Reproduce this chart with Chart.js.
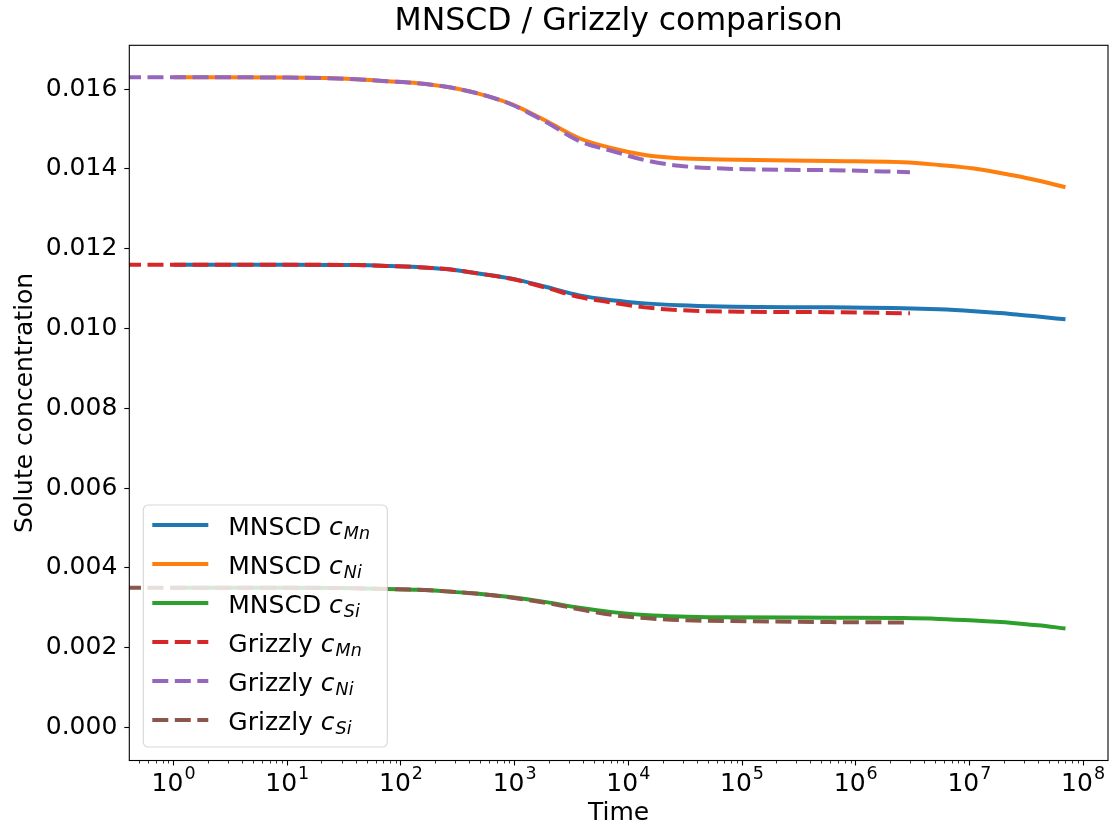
<!DOCTYPE html>
<html>
<head>
<meta charset="utf-8">
<title>MNSCD / Grizzly comparison</title>
<script src="https://cdn.jsdelivr.net/npm/chart.js@4.4.0/dist/chart.umd.min.js"></script>
<style>
  html, body { margin: 0; padding: 0; background: #fff; }
</style>
</head>
<body>
<canvas id="chart" width="1114" height="832"></canvas>
<script>
// time axis (log) and solute concentrations
const mnscdTime = [1, 10, 40, 75, 140, 250, 480, 950, 1900, 3700, 7200, 14000, 28000, 66000, 6e5, 2.6e6, 5.4e6, 1.1e7, 2.4e7, 4e7, 7e7];
const mnscdMn = [0.01160, 0.01160, 0.01159, 0.01157, 0.01154, 0.01149, 0.01138, 0.01125, 0.01104, 0.01083, 0.01071, 0.01063, 0.01058, 0.01055, 0.01053, 0.01051, 0.01048, 0.01043, 0.01036, 0.01030, 0.01023];
const mnscdNi = [0.01630, 0.01629, 0.01625, 0.01620, 0.01615, 0.01606, 0.01589, 0.01562, 0.01520, 0.01477, 0.01452, 0.01435, 0.01427, 0.01424, 0.01420, 0.01417, 0.01410, 0.01401, 0.01384, 0.01371, 0.01354];
const mnscdSi = [0.00350, 0.00350, 0.00349, 0.00347, 0.00345, 0.00341, 0.00335, 0.00326, 0.00314, 0.00300, 0.00289, 0.00282, 0.00278, 0.00276, 0.00275, 0.00274, 0.00272, 0.00268, 0.00262, 0.00256, 0.00248];

// first Grizzly time stands in for t = 0, which sits off the left of the log axis
const grizzlyTime = [0.001, 1, 10, 40, 75, 140, 250, 480, 950, 1900, 3700, 7200, 14000, 28000, 120000, 6e5, 3e6];
const grizzlyMn = [0.01160, 0.01160, 0.01160, 0.01159, 0.01157, 0.01154, 0.01149, 0.01138, 0.01124, 0.01102, 0.01079, 0.01065, 0.01053, 0.01046, 0.01042, 0.01041, 0.01038];
const grizzlyNi = [0.01630, 0.01630, 0.01629, 0.01625, 0.01620, 0.01615, 0.01606, 0.01589, 0.01561, 0.01517, 0.01470, 0.01445, 0.01422, 0.01408, 0.01399, 0.01397, 0.01392];
const grizzlySi = [0.00350, 0.00350, 0.00350, 0.00349, 0.00347, 0.00345, 0.00341, 0.00335, 0.00325, 0.00312, 0.00296, 0.00282, 0.00274, 0.00269, 0.00266, 0.00264, 0.00263];

const seriesNames = ['MNSCD', 'MNSCD', 'MNSCD', 'Grizzly', 'Grizzly', 'Grizzly'];
const elements = ['Mn', 'Ni', 'Si', 'Mn', 'Ni', 'Si'];

const xTicks = [1, 10, 100, 1e3, 1e4, 1e5, 1e6, 1e7, 1e8];
const xTickExponents = ['0', '1', '2', '3', '4', '5', '6', '7', '8'];
const yTicks = [0, 0.002, 0.004, 0.006, 0.008, 0.010, 0.012, 0.014, 0.016];
const yTickLabels = ['0.000', '0.002', '0.004', '0.006', '0.008', '0.010', '0.012', '0.014', '0.016'];

const FONT = '"DejaVu Sans", sans-serif';
const DASH = [16, 6.5];

const pts = (xs, ys) => xs.map((x, i) => ({ x: x, y: ys[i] }));

function line(label, xs, ys, color, dashed) {
    return {
        label: label,
        data: pts(xs, ys),
        borderColor: color,
        borderWidth: 4,
        borderDash: dashed ? DASH : [],
        pointRadius: 0,
        cubicInterpolationMode: 'monotone',
        fill: false,
        order: dashed ? 1 : 2 // dashed Grizzly lines sit on top
    };
}

function roundRect(ctx, x, y, w, h, r) {
    ctx.beginPath();
    ctx.moveTo(x + r, y);
    ctx.lineTo(x + w - r, y);
    ctx.arcTo(x + w, y, x + w, y + r, r);
    ctx.lineTo(x + w, y + h - r);
    ctx.arcTo(x + w, y + h, x + w - r, y + h, r);
    ctx.lineTo(x + r, y + h);
    ctx.arcTo(x, y + h, x, y + h - r, r);
    ctx.lineTo(x, y + r);
    ctx.arcTo(x, y, x + r, y, r);
    ctx.closePath();
}

// frame, minor log ticks and 10^n labels
const axesPlugin = {
    id: 'axesExtras',
    afterDraw(chart) {
        const { ctx, chartArea } = chart;
        const xs = chart.scales.x;
        ctx.save();
        ctx.strokeStyle = '#000';
        ctx.lineWidth = 1.1;
        ctx.strokeRect(chartArea.left, chartArea.top, chartArea.right - chartArea.left, chartArea.bottom - chartArea.top);

        // minor ticks
        ctx.beginPath();
        for (let d = -1; d <= 8; d++) {
            for (let k = 2; k <= 9; k++) {
                const v = k * Math.pow(10, d);
                if (v < xs.min || v > xs.max) continue;
                const px = Math.round(xs.getPixelForValue(v)) + 0.5;
                ctx.moveTo(px, chartArea.bottom);
                ctx.lineTo(px, chartArea.bottom + 3);
            }
        }
        ctx.lineWidth = 0.8;
        ctx.stroke();

        // tick labels with superscript
        ctx.fillStyle = '#000';
        ctx.textBaseline = 'alphabetic';
        ctx.textAlign = 'left';
        xTicks.forEach((v, i) => {
            const px = xs.getPixelForValue(v);
            ctx.font = '25px ' + FONT;
            const w1 = ctx.measureText('10').width;
            ctx.font = '17.5px ' + FONT;
            const w2 = ctx.measureText(xTickExponents[i]).width;
            const x0 = px - (w1 + w2 + 1) / 2;
            ctx.font = '25px ' + FONT;
            ctx.fillText('10', x0, chartArea.bottom + 30);
            ctx.font = '17.5px ' + FONT;
            ctx.fillText(xTickExponents[i], x0 + w1 + 1, chartArea.bottom + 18);
        });
        ctx.restore();
    }
};

// legend with italic c and subscript element
const legendPlugin = {
    id: 'mathLegend',
    afterDraw(chart) {
        const { ctx, chartArea } = chart;
        const w = 244, h = 242;
        const x = chartArea.left + 14;
        const y = chartArea.bottom - 13.5 - h;
        ctx.save();
        roundRect(ctx, x, y, w, h, 5);
        ctx.fillStyle = 'rgba(255,255,255,0.8)';
        ctx.fill();
        ctx.strokeStyle = 'rgba(204,204,204,0.8)';
        ctx.lineWidth = 1.1;
        ctx.stroke();

        chart.data.datasets.forEach((ds, i) => {
            const ry = y + 20 + i * 39;
            ctx.beginPath();
            ctx.setLineDash(ds.borderDash);
            ctx.lineWidth = ds.borderWidth;
            ctx.strokeStyle = ds.borderColor;
            ctx.moveTo(x + 9, ry);
            ctx.lineTo(x + 65, ry);
            ctx.stroke();
            ctx.setLineDash([]);

            ctx.fillStyle = '#000';
            ctx.textBaseline = 'alphabetic';
            ctx.textAlign = 'left';
            let tx = x + 85;
            const name = seriesNames[i] + ' ';
            ctx.font = '25px ' + FONT;
            ctx.fillText(name, tx, ry + 9.5);
            tx += ctx.measureText(name).width;
            ctx.font = 'italic 25px ' + FONT;
            ctx.fillText('c', tx, ry + 9.5);
            tx += ctx.measureText('c').width + 1;
            ctx.font = 'italic 17.5px ' + FONT;
            ctx.fillText(elements[i], tx, ry + 14);
        });
        ctx.restore();
    }
};

const ctx = document.getElementById('chart').getContext('2d');
new Chart(ctx, {
    type: 'line',
    data: {
        datasets: [
            line('MNSCD c_Mn', mnscdTime, mnscdMn, '#1f77b4', false),
            line('MNSCD c_Ni', mnscdTime, mnscdNi, '#ff7f0e', false),
            line('MNSCD c_Si', mnscdTime, mnscdSi, '#2ca02c', false),
            line('Grizzly c_Mn', grizzlyTime, grizzlyMn, '#d62728', true),
            line('Grizzly c_Ni', grizzlyTime, grizzlyNi, '#9467bd', true),
            line('Grizzly c_Si', grizzlyTime, grizzlySi, '#8c564b', true)
        ]
    },
    options: {
        responsive: false,
        animation: false,
        layout: { padding: { left: 0, right: 6, top: 0, bottom: 0 } },
        plugins: {
            legend: { display: false },
            tooltip: { enabled: false },
            title: {
                display: true,
                fullSize: false, // centre over the plot area, like matplotlib
                text: 'MNSCD / Grizzly comparison',
                color: '#000',
                font: { family: FONT, size: 31.5, weight: 'normal' },
                padding: { top: 3, bottom: 4.5 }
            }
        },
        scales: {
            x: {
                type: 'logarithmic',
                min: 0.408,
                max: 1.656e8,
                border: { display: false },
                grid: { drawOnChartArea: false, drawTicks: true, tickLength: 5, tickColor: '#000', tickWidth: 1.1 },
                ticks: { callback: () => '', autoSkip: false, maxRotation: 0, padding: 0 },
                title: {
                    display: true,
                    text: 'Time',
                    color: '#000',
                    font: { family: FONT, size: 25 },
                    padding: { top: 0, bottom: 4 }
                },
                afterBuildTicks: (s) => { s.ticks = xTicks.map(v => ({ value: v })); },
                afterFit: (s) => { s.height = 71.5; }
            },
            y: {
                min: -0.00083,
                max: 0.0171,
                border: { display: false },
                grid: { drawOnChartArea: false, drawTicks: true, tickLength: 5, tickColor: '#000', tickWidth: 1.1 },
                ticks: {
                    color: '#000',
                    font: { family: FONT, size: 25 },
                    padding: 7,
                    autoSkip: false,
                    callback: (v) => yTickLabels[yTicks.indexOf(v)]
                },
                title: {
                    display: true,
                    text: 'Solute concentration',
                    color: '#000',
                    font: { family: FONT, size: 25 },
                    padding: { top: 10, bottom: 0 }
                },
                afterBuildTicks: (s) => { s.ticks = yTicks.map(v => ({ value: v })); },
                afterFit: (s) => { s.width = 129.3; }
            }
        }
    },
    plugins: [axesPlugin, legendPlugin]
});
</script>
</body>
</html>
